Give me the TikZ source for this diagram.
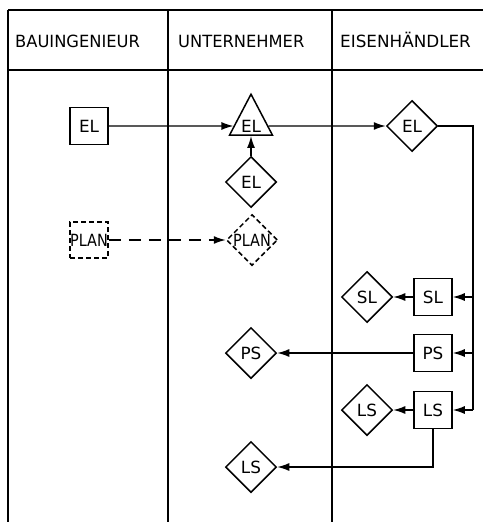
\documentclass[tikz,border=0pt]{standalone}
\usepackage{fontspec}
\setmainfont{DejaVu Sans}
\usetikzlibrary{shapes.geometric,arrows.meta}

\begin{document}
\begin{tikzpicture}[x=1pt, y=-1pt,
		font=\fontsize{16.8}{20}\selectfont,
		frame/.style={line width=1.9pt},
		box/.style={draw, line width=1.5pt, minimum width=38pt, minimum height=37pt, inner sep=0pt},
		rhomb/.style={draw, diamond, line width=1.5pt, minimum width=51pt, minimum height=51pt, inner sep=0pt},
		flow/.style={line width=1.4pt, -{Latex[length=12pt,width=8pt]}},
		sketchy/.style={dash pattern=on 5pt off 3pt}]
		%%%%% START %%%%%
		
		\useasboundingbox (0, 0) rectangle (483, 522);
		
		\draw[frame] (8, 10) -- (483, 10);
		\draw[frame] (8, 70) -- (483, 70);
		\draw[frame] (8, 10) -- (8, 522);
		\draw[frame] (168, 10) -- (168, 522);
		\draw[frame] (332, 10) -- (332, 522);
		
		\node[anchor=base west, inner sep=0pt] (bing) at (15, 47) {\scalebox{0.97}[1]{BAUINGENIEUR}};
		\node[anchor=base west, inner sep=0pt] (unt) at (178, 47) {\scalebox{0.97}[1]{UNTERNEHMER}};
		\node[anchor=base west, inner sep=0pt] (eis) at (340, 47) {EISENH\"ANDLER};
		
		\node[box] (elb) at (89, 126) {EL};
		\node[draw, isosceles triangle, shape border rotate=90, isosceles triangle stretches,
			minimum width=43pt, minimum height=41pt, inner sep=0pt, line width=1.5pt] (elu) at (251, 126) {EL};
		\node[rhomb] (eld) at (251, 182) {EL};
		\node[rhomb] (eli) at (412, 126) {EL};
		
		\node[box, sketchy, minimum height=36pt] (planb) at (89, 240) {\scalebox{0.86}[1]{PLAN}};
		\node[rhomb, sketchy] (planu) at (252, 240) {\scalebox{0.86}[1]{PLAN}};
		
		\node[box] (slb) at (433, 297) {SL};
		\node[rhomb] (sli) at (367, 297) {SL};
		\node[box] (psb) at (433, 353) {PS};
		\node[rhomb] (psu) at (251, 353) {PS};
		\node[box] (lsb) at (433, 410) {LS};
		\node[rhomb] (lsi) at (367, 410) {LS};
		\node[rhomb] (lsu) at (251, 467) {LS};
		
		\coordinate (rail) at (473, 410);
		
		\draw[flow] (elb) -- (elu);
		\draw[flow] (elu) -- (eli);
		\draw[flow] (eld) -- (elu);
		\draw[flow, dash pattern=on 12pt off 8pt] (planb) -- (planu);
		
		\draw[line width=1.4pt] (eli.east) -| (rail);
		\draw[flow] (slb.east -| rail) -- (slb.east);
		\draw[flow] (psb.east -| rail) -- (psb.east);
		\draw[flow] (rail) -- (lsb.east);
		
		\draw[flow] (slb) -- (sli);
		\draw[flow] (psb) -- (psu);
		\draw[flow] (lsb) -- (lsi);
		\draw[flow] (lsb.south) |- (lsu.east);
		
		%%%%% END %%%%%
	\end{tikzpicture}
\end{document}
